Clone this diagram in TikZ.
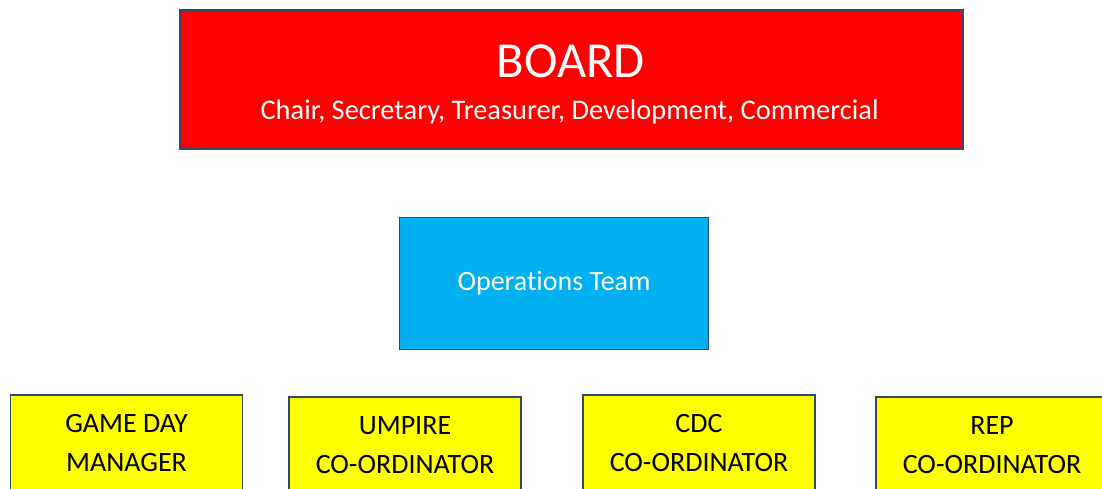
\documentclass[tikz,border=0pt]{standalone}
\usepackage{fontspec}
\setmainfont[Ligatures=NoCommon]{Carlito}
\usetikzlibrary{positioning}
\definecolor{boardred}{RGB}{255,0,0}
\definecolor{opsblue}{RGB}{0,176,240}
\definecolor{coordyellow}{RGB}{255,255,0}
\definecolor{edgeblue}{RGB}{47,72,110}
\tikzset{
	box/.style={
		rectangle,
		draw=edgeblue, line width=1.2pt,
		inner sep=0pt,
		text centered},
	boardbox/.style={box, fill=boardred, minimum width=783pt, minimum height=139pt},
	opsbox/.style={box, fill=opsblue, minimum width=309pt, minimum height=132pt,
		text=white, font=\fontsize{28}{32}\selectfont},
	coordbox/.style={box, fill=coordyellow, minimum width=232pt, minimum height=97pt,
		align=center, font=\fontsize{28}{39}\selectfont},
}

\begin{document}
\begin{tikzpicture}[x=1pt,y=-1pt]
	\useasboundingbox (0,0) rectangle (1102,489);
	\clip (0,0) rectangle (1102,489);

	\node[boardbox] (board) at (571.5,79.5) {};
	\node[text=white, font=\fontsize{50.5}{58}\selectfont] (boardtitle) at (571,61) {BOARD};
	\node[text=white, font=\fontsize{28.4}{32}\selectfont, anchor=base] (boardroles) at (569.5,119.5) {Chair, Secretary, Treasurer, Development, Commercial};

	\node[opsbox] (ops) at (554,283.5) {Operations Team};

	\node[coordbox] (gameday) at (126.5,443.5) {GAME DAY\\MANAGER};
	\node[coordbox] (umpire) at (405,445.5) {UMPIRE\\CO-ORDINATOR};
	\node[coordbox] (cdc) at (699,443.5) {CDC\\CO-ORDINATOR};
	\node[coordbox] (rep) at (992,445.5) {REP\\CO-ORDINATOR};

\end{tikzpicture}
\end{document}
